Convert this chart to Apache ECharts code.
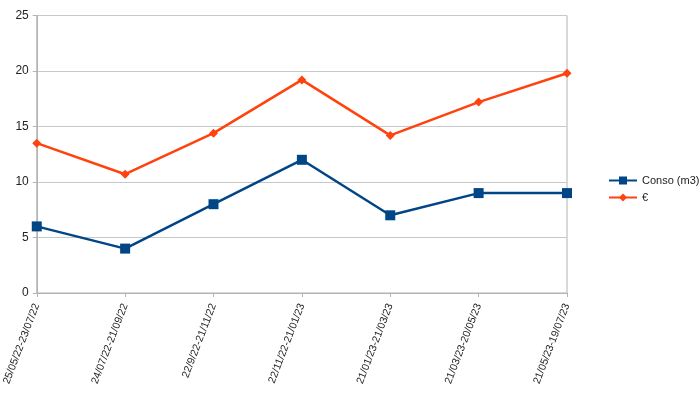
<!DOCTYPE html>
<html>
<head>
<meta charset="utf-8">
<script src="https://cdn.jsdelivr.net/npm/echarts@6/dist/echarts.min.js"></script>
<style>
  html, body { margin: 0; padding: 0; background: #fff; }
  #chart { width: 700px; height: 398px; }
</style>
</head>
<body>
<div id="chart"></div>
<script>
// données
const categories = ['25/05/22-23/07/22', '24/07/22-21/09/22', '22/9/22-21/11/22', '22/11/22-21/01/23',
    '21/01/23-21/03/23', '21/03/23-20/05/23', '21/05/23-19/07/23'];
const conso = [6, 4, 8, 12, 7, 9, 9];
const euros = [13.5, 10.7, 14.4, 19.2, 14.2, 17.2, 19.8];
const yTicks = [0, 5, 10, 15, 20, 25];

const chart = echarts.init(document.getElementById('chart'));

const option = {
    animation: false,
    backgroundColor: '#ffffff',
    textStyle: { fontFamily: 'Liberation Sans, Arial, sans-serif' },
    grid: {
        left: 35,
        right: 133,
        top: 15.5,
        bottom: 105,
        show: true,
        borderColor: '#b3b3b3',
        borderWidth: 1
    },
    legend: {
        orient: 'vertical',
        left: 603,
        top: 170,
        itemWidth: 28,
        itemHeight: 10,
        itemGap: 6,
        textStyle: { color: '#222', fontSize: 11 },
        data: ['Conso (m3)', '€']
    },
    xAxis: {
        type: 'category',
        data: categories,
        boundaryGap: false,
        axisLine: { lineStyle: { color: '#b3b3b3' } },
        axisTick: { show: true, length: 4, lineStyle: { color: '#b3b3b3' } },
        axisLabel: {
            rotate: 69,
            color: '#222',
            fontSize: 10.5,
            margin: 11,
            interval: 0
        },
        splitLine: { show: false }
    },
    yAxis: {
        type: 'value',
        min: yTicks[0],
        max: yTicks[yTicks.length - 1],
        interval: 5,
        axisLine: { show: true, lineStyle: { color: '#b3b3b3' } },
        axisTick: { show: true, length: 4, lineStyle: { color: '#b3b3b3' } },
        axisLabel: { color: '#222', fontSize: 12, margin: 8 },
        splitLine: { show: true, lineStyle: { color: '#c8c8c8' } }
    },
    series: [
        {
            name: 'Conso (m3)',
            type: 'line',
            data: conso,
            color: '#004586',
            lineStyle: { width: 2.5 },
            symbol: 'rect',
            symbolSize: 10
        },
        {
            name: '€',
            type: 'line',
            data: euros,
            color: '#ff420e',
            lineStyle: { width: 2.5 },
            symbol: 'diamond',
            symbolSize: 9
        }
    ]
};

chart.setOption(option);
</script>
</body>
</html>
